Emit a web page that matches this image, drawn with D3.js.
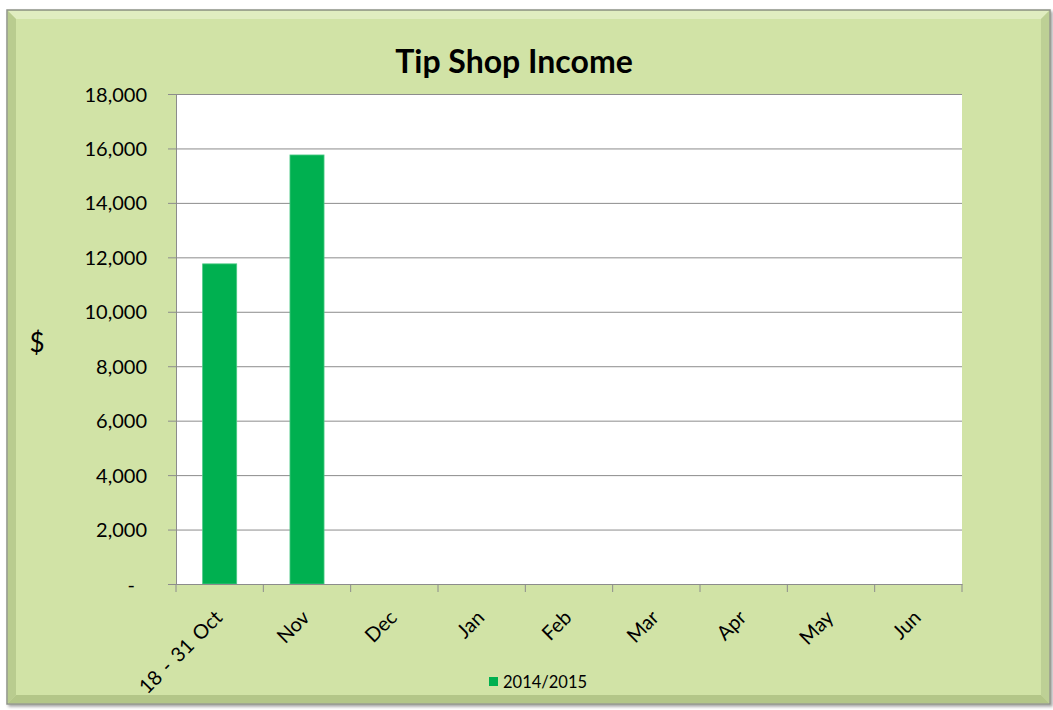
<!DOCTYPE html>
<html>
<head>
<meta charset="utf-8">
<script src="https://cdn.jsdelivr.net/npm/d3@7"></script>
<style>
  html, body { margin: 0; padding: 0; background: #ffffff; }
  svg { display: block; font-family: Lato, "Open Sans", sans-serif; }
</style>
</head>
<body>
<svg id="chart" width="1053" height="710"></svg>
<script>
const categories = ["18 - 31 Oct", "Nov", "Dec", "Jan", "Feb", "Mar", "Apr", "May", "Jun"];
const income = [11760, 15760, null, null, null, null, null, null, null];
const yTicks = [0, 2000, 4000, 6000, 8000, 10000, 12000, 14000, 16000, 18000];
const seriesName = "2014/2015";
const titleText = "Tip Shop Income";
const yAxisTitle = "$";

const svg = d3.select("#chart");
const FONT = "Lato, 'Open Sans', sans-serif";

// frame with bevel
const defs = svg.append("defs");
const fx = 7, fy = 10, fw = 1043, fh = 694;
const sh = defs.append("filter").attr("id", "shadow").attr("x", "-5%").attr("y", "-5%").attr("width", "110%").attr("height", "110%");
sh.append("feDropShadow").attr("dx", 2).attr("dy", 2).attr("stdDeviation", 1.5).attr("flood-color", "#000").attr("flood-opacity", 0.35);

svg.append("rect").attr("x", fx).attr("y", fy).attr("width", fw).attr("height", fh)
  .attr("fill", "#d1e3a6").attr("stroke", "#8f9488").attr("stroke-width", 1.5)
  .attr("filter", "url(#shadow)");
const bev = 8;
svg.append("path").attr("d", `M${fx+1},${fy+1} L${fx+fw-1},${fy+1} L${fx+fw-1-bev},${fy+1+bev} L${fx+1+bev},${fy+1+bev} Z`).attr("fill", "#e0edc0");
svg.append("path").attr("d", `M${fx+1},${fy+1} L${fx+1+bev},${fy+1+bev} L${fx+1+bev},${fy+fh-1-bev} L${fx+1},${fy+fh-1} Z`).attr("fill", "#b9cc8f");
svg.append("path").attr("d", `M${fx+fw-1},${fy+1} L${fx+fw-1},${fy+fh-1} L${fx+fw-1-bev},${fy+fh-1-bev} L${fx+fw-1-bev},${fy+1+bev} Z`).attr("fill", "#bdd095");
svg.append("path").attr("d", `M${fx+1},${fy+fh-1} L${fx+fw-1},${fy+fh-1} L${fx+fw-1-bev},${fy+fh-1-bev} L${fx+1+bev},${fy+fh-1-bev} Z`).attr("fill", "#b3c688");

// plot area
const m = { left: 176, top: 94, right: 962, bottom: 584 };
const x = d3.scaleBand().domain(categories).range([m.left, m.right]).paddingInner(0.61).paddingOuter(0.305);
const xb = d3.scaleBand().domain(categories).range([m.left, m.right]);
const y = d3.scaleLinear().domain([0, 18000]).range([m.bottom, m.top]);

svg.append("rect").attr("x", m.left).attr("y", m.top).attr("width", m.right - m.left).attr("height", m.bottom - m.top).attr("fill", "#ffffff");

// gridlines + y axis
const yAxis = d3.axisLeft(y).tickValues(yTicks).tickSize(8).tickPadding(21)
  .tickFormat(d => d === 0 ? "-" : d3.format(",")(d));
const gy = svg.append("g").attr("transform", `translate(${m.left},0)`).call(yAxis)
  .attr("font-family", FONT).attr("font-size", 20);
gy.select(".domain").attr("stroke", "#8c8c8c");
gy.selectAll(".tick line").attr("stroke", "#8c8c8c").attr("x2", m.right - m.left).attr("x1", -8);
gy.selectAll(".tick text").attr("fill", "#000").attr("dy", "0.35em");
gy.selectAll(".tick").filter(d => d === 0).select("text").attr("dx", "-12px");

// bars
svg.append("g").selectAll("rect").data(categories.map((c, i) => ({ c, v: income[i] })).filter(d => d.v != null))
  .join("rect")
  .attr("x", d => x(d.c)).attr("width", x.bandwidth())
  .attr("y", d => y(d.v)).attr("height", d => y(0) - y(d.v))
  .attr("fill", "#00b050").attr("stroke", "#4cc985").attr("stroke-width", 0.8);

// x axis
const xAxis = d3.axisBottom(xb).tickSize(0).tickFormat("");
const gx = svg.append("g").attr("transform", `translate(0,${m.bottom})`).call(xAxis);
gx.select(".domain").attr("stroke", "#8c8c8c");
const bounds = categories.map((c) => xb(c)).concat([m.right]);
gx.selectAll(".bt").data(bounds).join("line").attr("class", "bt")
  .attr("x1", d => d).attr("x2", d => d).attr("y1", 0).attr("y2", 8).attr("stroke", "#8c8c8c");
svg.append("g").selectAll("text").data(categories).join("text")
  .attr("transform", d => `translate(${xb(d) + xb.bandwidth() / 2 - 6},${m.bottom + 25}) rotate(-45)`)
  .attr("text-anchor", "end").attr("dy", "0.7em")
  .style("font-size", "20px").style("word-spacing", "2px").attr("fill", "#000")
  .text(d => d);

// title
svg.append("text").attr("x", 514).attr("y", 73).attr("text-anchor", "middle")
  .style("font-size", "32px").style("font-weight", "bold").attr("fill", "#000").text(titleText);

// y axis title
svg.append("text").attr("x", 37).attr("y", 352).attr("text-anchor", "middle")
  .style("font-size", "26px").attr("fill", "#000").text(yAxisTitle);

// legend
const lg = svg.append("g").attr("transform", "translate(489,677)");
lg.append("rect").attr("width", 9).attr("height", 9).attr("fill", "#00b050");
lg.append("text").attr("x", 14).attr("y", 10.5).style("font-size", "16.5px").attr("fill", "#000").text(seriesName);
</script>
</body>
</html>
